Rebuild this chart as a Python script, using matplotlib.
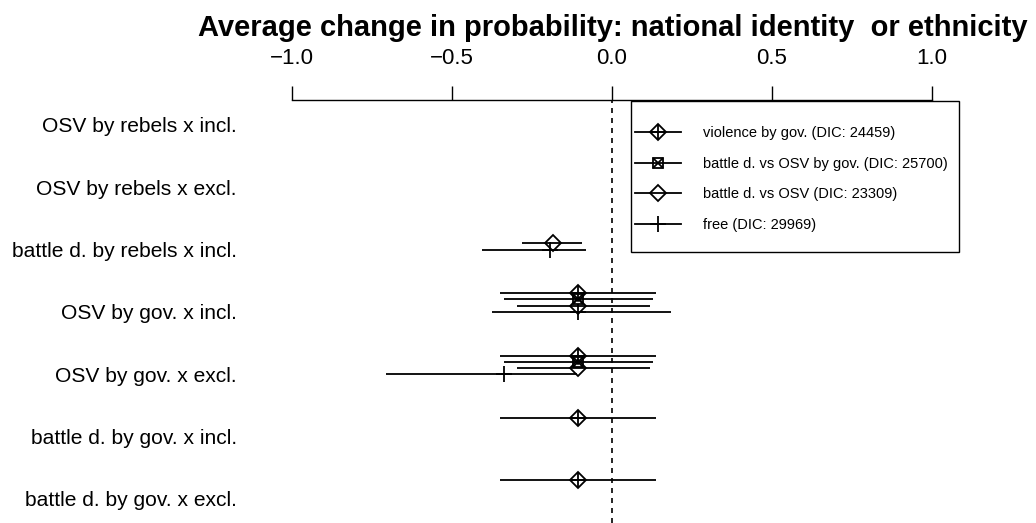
import numpy as np
import matplotlib
matplotlib.use("Agg")
import matplotlib.pyplot as plt
from matplotlib.lines import Line2D
from matplotlib.patches import Rectangle
from matplotlib.legend_handler import HandlerTuple

plt.rcParams["font.family"] = ["Liberation Sans", "DejaVu Sans"]

# rows from top to bottom
row_labels = [
    "OSV by rebels x incl.",
    "OSV by rebels x excl.",
    "battle d. by rebels x incl.",
    "OSV by gov. x incl.",
    "OSV by gov. x excl.",
    "battle d. by gov. x incl.",
    "battle d. by gov. x excl.",
]
series_names = [
    "violence by gov. (DIC: 24459)",
    "battle d. vs OSV by gov. (DIC: 25700)",
    "battle d. vs OSV (DIC: 23309)",
    "free (DIC: 29969)",
]
nan = np.nan

# estimates / lower / upper, one list per series, same order as row_labels
est_gov = [nan, nan, nan, -0.105, -0.105, -0.105, -0.105]
lo_gov = [nan, nan, nan, -0.35, -0.35, -0.35, -0.35]
hi_gov = [nan, nan, nan, 0.137, 0.137, 0.137, 0.137]

est_bvo_gov = [nan, nan, nan, -0.105, -0.105, nan, nan]
lo_bvo_gov = [nan, nan, nan, -0.337, -0.337, nan, nan]
hi_bvo_gov = [nan, nan, nan, 0.127, 0.127, nan, nan]

est_bvo = [nan, nan, -0.185, -0.105, -0.105, nan, nan]
lo_bvo = [nan, nan, -0.282, -0.298, -0.298, nan, nan]
hi_bvo = [nan, nan, -0.095, 0.119, 0.119, nan, nan]

est_free = [nan, nan, -0.194, -0.106, -0.336, nan, nan]
lo_free = [nan, nan, -0.405, -0.376, -0.707, nan, nan]
hi_free = [nan, nan, -0.081, 0.183, -0.11, nan, nan]

xticks = [-1.0, -0.5, 0.0, 0.5, 1.0]
xtick_labels = ["\u22121.0", "\u22120.5", "0.0", "0.5", "1.0"]

W, H = 1036, 523
fig = plt.figure(figsize=(W / 100, H / 100), dpi=100)
ax = fig.add_axes([292 / W, 0, 640 / W, 1 - 100 / H])

rows = np.arange(len(row_labels), 0, -1)  # 7 .. 1
offsets = [0.3, 0.2, 0.1, 0.0]
lw = 1.3

data = [
    (est_gov, lo_gov, hi_gov),
    (est_bvo_gov, lo_bvo_gov, hi_bvo_gov),
    (est_bvo, lo_bvo, hi_bvo),
    (est_free, lo_free, hi_free),
]

# marker styles (pch 9, 7, 5, 3 lookalikes)
marker_sets = [
    [dict(marker="D", ms=8.5), dict(marker="+", ms=12)],
    [dict(marker="s", ms=7.5), dict(marker="x", ms=7.5)],
    [dict(marker="D", ms=8.5)],
    [dict(marker="+", ms=11.5)],
]

for k, (est, lo, hi) in enumerate(data):
    est = np.array(est)
    lo = np.array(lo)
    hi = np.array(hi)
    y = rows + offsets[k]
    ax.errorbar(est, y, xerr=[est - lo, hi - est], fmt="none",
                ecolor="black", elinewidth=lw, capsize=0)
    for m in marker_sets[k]:
        ax.plot(est, y, ls="none", color="black", mfc="none", mew=lw, **m)

ax.axvline(0, color="black", lw=1.2, ls=(0, (3, 3)))

ax.set_xlim(-1, 1)
ax.set_ylim(1 - 24.2 / 62.3, 7 + 25 / 62.3)
ax.xaxis.tick_top()
ax.set_xticks(xticks)
ax.set_xticklabels(xtick_labels, fontsize=16)
ax.tick_params(axis="x", direction="out", length=10, width=1, pad=12)
ax.set_yticks(rows)
ax.set_yticklabels(row_labels, fontsize=15.1)
ax.tick_params(axis="y", length=0, pad=39.6)
for s in ["left", "right", "bottom"]:
    ax.spines[s].set_visible(False)
ax.spines["top"].set_linewidth(1)

fig.text(613 / W, 1 - 36 / H,
         "Average change in probability: national identity  or ethnicity",
         ha="center", va="baseline", fontsize=21, fontweight="bold")

# legend
handles = []
for ms in marker_sets:
    parts = [Line2D([], [], color="black", lw=lw)]
    for m in ms:
        parts.append(Line2D([], [], ls="none", color="black", mfc="none",
                            mew=lw, **m))
    handles.append(tuple(parts))

box = (631 / W, 1 - 252 / H, 328 / W, 151 / H)
fig.patches.append(Rectangle(box[:2], box[2], box[3], transform=fig.transFigure,
                             fill=False, edgecolor="black", lw=1))
anchor = (box[0], box[1] - 2.5 / H, box[2], box[3])
fig.legend(handles, series_names, loc="center left", bbox_to_anchor=anchor,
           frameon=False, fontsize=10.5, handlelength=3.15, handletextpad=1.5,
           labelspacing=1.15, borderpad=0.27, borderaxespad=0,
           handler_map={tuple: HandlerTuple(ndivide=1)})

fig.savefig("out.png", dpi=100)
